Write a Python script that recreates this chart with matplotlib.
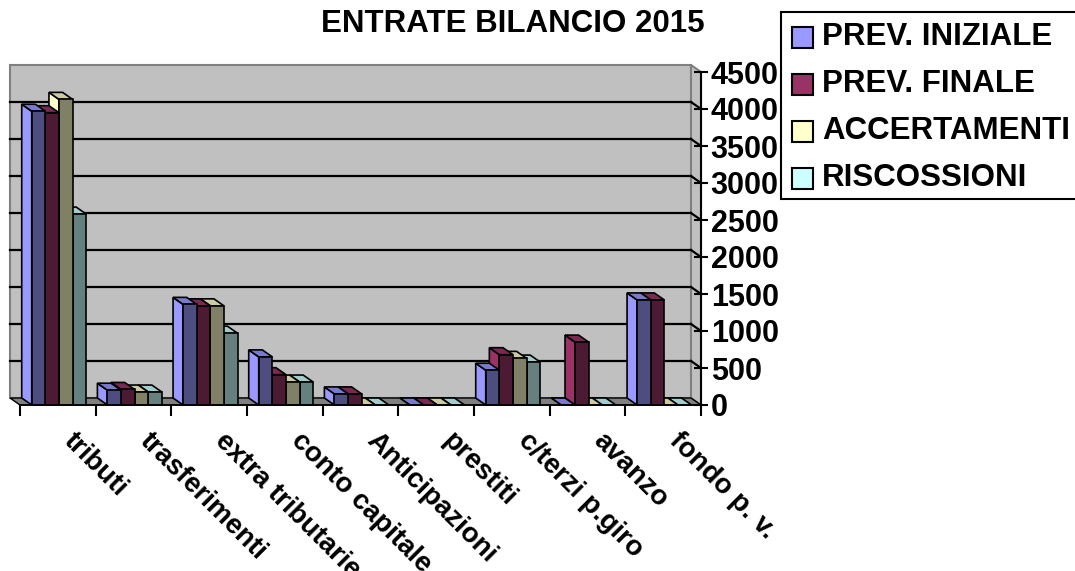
import matplotlib
matplotlib.use('Agg')
import matplotlib.pyplot as plt
from matplotlib.patches import Polygon, Rectangle
from matplotlib.transforms import offset_copy
import numpy as np

plt.rcParams['font.family'] = ['Liberation Sans', 'DejaVu Sans']
plt.rcParams['font.weight'] = 'bold'

# DATA
categorie = ['tributi', 'trasferimenti', 'extra tributarie', 'conto capitale',
             'Anticipazioni', 'prestiti', 'c/terzi p.giro', 'avanzo', 'fondo p. v.']
serie = ['PREV. INIZIALE', 'PREV. FINALE', 'ACCERTAMENTI', 'RISCOSSIONI']
prev_iniziale = [3970, 200, 1360, 650, 150, 0, 470, 0, 1420]
prev_finale = [3950, 210, 1340, 410, 150, 0, 680, 850, 1420]
accertamenti = [4130, 175, 1340, 310, 0, 0, 630, 0, 0]
riscossioni = [2580, 175, 970, 310, 0, 0, 580, 0, 0]
valori = [prev_iniziale, prev_finale, accertamenti, riscossioni]

# colori: lato (chiaro), cima, fronte (scuro)
col_base = ['#9999FF', '#993366', '#FFFFCC', '#CCFFFF']
col_top = ['#7A7ACC', '#7A2952', '#CCCCA3', '#A3CCCC']
col_front = ['#4D4D80', '#4D1A33', '#808066', '#668080']

W, H = 1075, 571
fig = plt.figure(figsize=(W / 100, H / 100), dpi=100)

# area del grafico in pixel
x_l, x_r, y_t, y_b = 20, 701, 72, 405
ax = fig.add_axes([x_l / W, (H - y_b) / H, (x_r - x_l) / W, (y_b - y_t) / H])
n = len(categorie)
ymax = 4500
ax.set_xlim(-0.5, n - 0.5)
ax.set_ylim(0, ymax)

# profondita 3D (pixel -> dati)
px_x = (x_r - x_l) / n
px_y = (y_b - y_t) / ymax
dx = -10 / px_x
dy = 7 / px_y

# parete di fondo
wall = Polygon([(-0.5 + dx, dy), (n - 0.5 + dx, dy), (n - 0.5 + dx, ymax + dy), (-0.5 + dx, ymax + dy)],
               closed=True, facecolor='#C0C0C0', edgecolor='#808080', lw=1.5, clip_on=False, zorder=0.5)
ax.add_patch(wall)
# lato destro
side = Polygon([(n - 0.5 + dx, dy), (n - 0.5, 0), (n - 0.5, ymax), (n - 0.5 + dx, ymax + dy)],
               closed=True, facecolor='#C0C0C0', edgecolor='#808080', lw=1.5, clip_on=False, zorder=0.6)
ax.add_patch(side)
# pavimento
floor = Polygon([(-0.5, 0), (n - 0.5, 0), (n - 0.5 + dx, dy), (-0.5 + dx, dy)],
                closed=True, facecolor='#808080', edgecolor='black', lw=1, clip_on=False, zorder=0.7)
ax.add_patch(floor)

# griglia
for v in np.arange(500, ymax, 500):
    ax.plot([-0.5 + dx, n - 0.5 + dx], [v + dy, v + dy], color='black', lw=1.6, clip_on=False, zorder=0.8)
    ax.plot([n - 0.5 + dx, n - 0.5], [v + dy, v], color='black', lw=1.6, clip_on=False, zorder=0.8)

# barre
w = 0.18
start = -0.345
x = np.arange(n)
for i, vals in enumerate(valori):
    bars = ax.bar(x + start + i * w, vals, width=w, align='edge', color=col_front[i],
                  edgecolor='black', lw=1.2)
    for j, b in enumerate(bars):
        v = vals[j]
        x0 = x[j] + start + i * w
        zo = 1 + ((n - 1 - j) * 4 + (3 - i)) * 0.01
        lato = Polygon([(x0, 0), (x0, v), (x0 + dx, v + dy), (x0 + dx, dy)], closed=True,
                       facecolor=col_base[i], edgecolor='black', lw=1.2, zorder=zo, clip_on=False)
        cima = Polygon([(x0, v), (x0 + w, v), (x0 + w + dx, v + dy), (x0 + dx, v + dy)], closed=True,
                       facecolor=col_top[i], edgecolor='black', lw=1.2, zorder=zo + 0.002, clip_on=False)
        ax.add_patch(lato)
        ax.add_patch(cima)
        b.set_zorder(zo + 0.004)
        b.set_clip_on(False)

# assi
for s in ['top', 'left']:
    ax.spines[s].set_visible(False)
ax.spines['right'].set_linewidth(1.5)
ax.spines['bottom'].set_linewidth(1.2)
ax.spines['right'].set_zorder(3)
ax.yaxis.tick_right()
ax.set_yticks(np.arange(0, ymax + 1, 500))
ax.tick_params(axis='y', direction='inout', length=10, width=1.5, labelsize=22, pad=2)
ax.set_xticks(np.arange(-0.5, n, 1))
ax.set_xticklabels([])
ax.tick_params(axis='x', direction='out', length=8, width=1.5)
etich_tr = offset_copy(ax.get_xaxis_transform(), fig=fig, x=10, y=-32, units='dots')
for k, nome in enumerate(categorie):
    ax.text(x[k], 0, nome, transform=etich_tr, rotation=-45, ha='left', va='center',
            rotation_mode='anchor', fontsize=20, fontweight='bold', clip_on=False)
ax.set_facecolor('none')

# titolo
fig.text(513 / W, 1 - 24 / H, 'ENTRATE BILANCIO 2015', ha='center', va='center', fontsize=22.5,
         fontweight='bold')

# legenda
lax = fig.add_axes([0, 0, 1, 1])
lax.set_xlim(0, W)
lax.set_ylim(H, 0)
lax.axis('off')
lax.add_patch(Rectangle((781, 12), 340, 187, facecolor='white', edgecolor='black', lw=1.5, clip_on=False))
for i, nome in enumerate(serie):
    yc = 37 + i * 47
    lax.add_patch(Rectangle((792, yc - 10.5), 21, 21, facecolor=col_base[i], edgecolor='black', lw=1.5))
    lax.text(822, yc, nome, ha='left', va='center', fontsize=22.5, fontweight='bold')

fig.savefig('out.png', dpi=100)
